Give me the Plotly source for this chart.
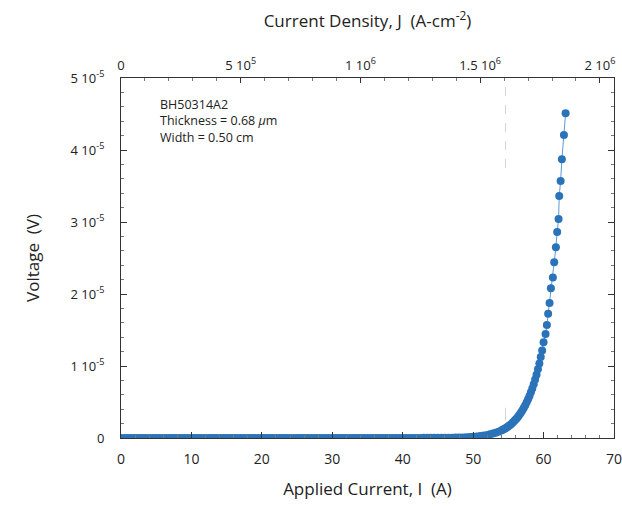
import plotly.graph_objects as go

# ---- data ----
current_low = [0.0, 0.5, 1.0, 1.5, 2.0, 2.5, 3.0, 3.5, 4.0, 4.5, 5.0, 5.5, 6.0, 6.5, 7.0, 7.5,
               8.0, 8.5, 9.0, 9.5, 10.0, 10.5, 11.0, 11.5, 12.0, 12.5, 13.0, 13.5, 14.0, 14.5,
               15.0, 15.5, 16.0, 16.5, 17.0, 17.5, 18.0, 18.5, 19.0, 19.5, 20.0, 20.5, 21.0,
               21.5, 22.0, 22.5, 23.0, 23.5, 24.0, 24.5, 25.0, 25.5, 26.0, 26.5, 27.0, 27.5,
               28.0, 28.5, 29.0, 29.5, 30.0, 30.5, 31.0, 31.5, 32.0, 32.5, 33.0, 33.5, 34.0,
               34.5, 35.0, 35.5, 36.0, 36.5, 37.0, 37.5, 38.0, 38.5, 39.0, 39.5, 40.0, 40.5,
               41.0, 41.5, 42.0, 42.5, 43.0, 43.5, 44.0, 44.5, 45.0, 45.5, 46.0, 46.5, 47.0,
               47.5, 48.0, 48.5]
voltage_low_uV = [0.0, 0.0, 0.0, 0.0, 0.0, 0.0, 0.0, 0.0, 0.0, 0.0, 0.0, 0.0, 0.0, 0.0, 0.0, 0.0,
                  0.0, 0.0, 0.0, 0.0, 0.0, 0.0, 0.0, 0.0, 0.0, 0.0, 0.0, 0.0, 0.0, 0.0,
                  0.0, 0.0, 0.0, 0.0, 0.0, 0.0, 0.0, 0.0, 0.0, 0.0, 0.0, 0.0, 0.0,
                  0.0, 0.0, 0.0, 0.0, 0.0, 0.0, 0.0, 0.0, 0.0, 0.0, 0.0, 0.0, 0.0,
                  0.0, 0.0, 0.0, 0.0, 0.0, 0.0, 0.0, 0.0, 0.0, 0.0, 0.0, 0.0, 0.0,
                  0.0, 0.0, 0.0, 0.0, 0.0, 0.0, 0.0, 0.0, 0.0, 0.0, 0.0, 0.01, 0.01,
                  0.01, 0.01, 0.01, 0.01, 0.02, 0.02, 0.02, 0.03, 0.03, 0.03, 0.04, 0.05, 0.05,
                  0.06, 0.07, 0.08]
current_high = [49.0, 49.5, 50.0, 50.5, 51.0, 51.5, 52.0, 52.4, 52.8, 53.2, 53.6, 54.0, 54.2,
                54.4, 54.6, 54.8, 55.0, 55.2, 55.4, 55.6, 55.8, 56.0, 56.2, 56.4, 56.6, 56.8,
                57.0, 57.2, 57.4, 57.6, 57.8, 58.0, 58.2, 58.4, 58.6, 58.8, 59.0, 59.2, 59.4,
                59.6, 59.8, 60.0, 60.28, 60.47, 60.65, 60.85, 61.04, 61.32, 61.51, 61.75,
                61.93, 62.13, 62.22, 62.42, 62.60, 62.89, 63.13]
voltage_high_uV = [0.10, 0.13, 0.17, 0.21, 0.27, 0.34, 0.42, 0.51, 0.62, 0.74, 0.88, 1.05, 1.15,
                   1.26, 1.37, 1.50, 1.63, 1.78, 1.94, 2.12, 2.31, 2.52, 2.74, 2.99, 3.25, 3.54,
                   3.86, 4.19, 4.55, 4.95, 5.38, 5.84, 6.35, 6.89, 7.48, 8.12, 8.80, 9.55, 10.36,
                   11.25, 12.17, 13.3, 14.45, 15.7, 17.25, 18.75, 20.8, 22.3, 24.4, 26.5,
                   28.6, 30.4, 33.6, 35.7, 38.7, 42.1, 45.1]

thickness_cm = 0.68e-4
width_cm = 0.50
x_range = [0, 70]
j_max = x_range[1] / (thickness_cm * width_cm)

y_tickvals = [0, 1e-5, 2e-5, 3e-5, 4e-5, 5e-5]
y_ticktext = ["0", "1 10<sup>-5</sup>", "2 10<sup>-5</sup>", "3 10<sup>-5</sup>",
              "4 10<sup>-5</sup>", "5 10<sup>-5</sup>"]
j_tickvals = [0, 5e5, 1e6, 1.5e6, 2e6]
j_ticktext = ["0", "5 10<sup>5</sup>", "1 10<sup>6</sup>", "1.5 10<sup>6</sup>", "2 10<sup>6</sup>"]
x_tickvals = [0, 10, 20, 30, 40, 50, 60, 70]

current = current_low + current_high
voltage = [v * 1e-6 for v in voltage_low_uV + voltage_high_uV]

blue = "#2b73b9"
axis_col = "#333333"
font_family = "Open Sans, DejaVu Sans, sans-serif"

fig = go.Figure()
fig.add_trace(go.Scatter(
    x=current, y=voltage, mode="lines+markers",
    line=dict(color="#5a9ad6", width=1),
    marker=dict(color=blue, size=8, line=dict(width=0)),
    showlegend=False, hoverinfo="skip"))
# invisible trace to activate the top (current density) axis
fig.add_trace(go.Scatter(x=[0, j_max], y=[None, None], xaxis="x2", mode="markers",
                         showlegend=False, hoverinfo="skip"))

# faint dashed vertical guide
guide_I = 54.6
fig.add_shape(type="line", xref="x", yref="y", x0=guide_I, x1=guide_I, y0=3.75e-5, y1=5e-5,
              line=dict(color="#d4d4d4", width=1, dash="dash"))
fig.add_shape(type="line", xref="x", yref="y", x0=guide_I, x1=guide_I, y0=2.5e-6, y1=4.2e-6,
              line=dict(color="#d4d4d4", width=1))

tick_font = dict(family=font_family, size=13, color="#222222")

fig.update_layout(
    width=622, height=506,
    margin=dict(l=121, r=8, t=78, b=68),
    paper_bgcolor="white", plot_bgcolor="white",
    font=dict(family=font_family, color="#222222"),
    xaxis=dict(
        range=x_range, tickvals=x_tickvals, ticks="inside", ticklen=6, tickwidth=1,
        tickcolor=axis_col, showline=True, linecolor=axis_col, linewidth=1, mirror=False,
        showgrid=False, zeroline=False, tickfont=dict(family=font_family, size=14,
                                                      color="#222222"),
        automargin=False, ticklabelstandoff=8, ticklabeloverflow="allow",
        minor=dict(ticks="inside", dtick=2, ticklen=3, tickcolor="#777777", showgrid=False),
        title=dict(text="Applied Current, I  (A)", font=dict(size=17, family=font_family),
                   standoff=16)),
    xaxis2=dict(
        overlaying="x", side="top", range=[0, j_max], tickvals=j_tickvals, ticktext=j_ticktext,
        ticks="inside", ticklen=5, tickcolor=axis_col, showline=True, linecolor=axis_col,
        linewidth=1, showgrid=False, zeroline=False, tickfont=tick_font,
        automargin=False, ticklabelstandoff=2, ticklabeloverflow="allow",
        minor=dict(ticks="inside", tickvals=[1e5 * k for k in range(21)], ticklen=3,
                   tickcolor="#777777", showgrid=False),
        title=dict(text="Current Density, J  (A-cm<sup>-2</sup>)",
                   font=dict(size=17, family=font_family), standoff=22)),
    yaxis=dict(
        range=[0, 5e-5], tickvals=y_tickvals, ticktext=y_ticktext, ticks="inside", ticklen=6,
        tickcolor=axis_col, showline=True, linecolor=axis_col, linewidth=1, mirror="ticks",
        showgrid=False, zeroline=False, tickfont=tick_font,
        automargin=False, ticklabelstandoff=13,
        minor=dict(ticks="inside", dtick=2e-6, ticklen=3, tickcolor="#777777", showgrid=False),
        title=dict(text="Voltage  (V)", font=dict(size=17, family=font_family), standoff=26)),
)

fig.add_annotation(
    xref="paper", yref="paper", x=0.075, y=0.955, xanchor="left", yanchor="top",
    align="left", showarrow=False,
    text="BH50314A2<br>Thickness = 0.68 <i>μ</i>m<br>Width = 0.50 cm",
    font=dict(family=font_family, size=12.5, color="#222222"))

fig.write_html("out.html")
